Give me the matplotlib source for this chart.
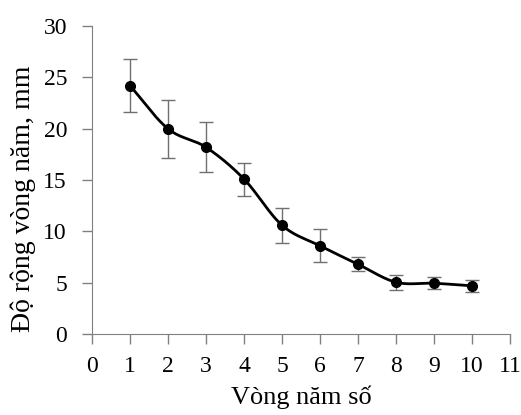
import matplotlib.pyplot as plt
import numpy as np

plt.rcParams['font.family'] = ['Liberation Serif', 'DejaVu Serif']

vong = np.arange(1, 11)
do_rong = np.array([24.2, 20.0, 18.2, 15.1, 10.6, 8.6, 6.8, 5.05, 4.95, 4.7])
sai_so = np.array([2.6, 2.85, 2.45, 1.6, 1.7, 1.6, 0.7, 0.75, 0.6, 0.6])


def catmull_rom(x, y, n=20):
    # smooth line like Excel's "smoothed line"
    px = np.concatenate(([2*x[0]-x[1]], x, [2*x[-1]-x[-2]]))
    py = np.concatenate(([2*y[0]-y[1]], y, [2*y[-1]-y[-2]]))
    xs, ys = [], []
    t = np.linspace(0, 1, n)
    for i in range(1, len(px)-2):
        for p, out in ((px, xs), (py, ys)):
            p0, p1, p2, p3 = p[i-1], p[i], p[i+1], p[i+2]
            out.extend(0.5*((2*p1) + (-p0+p2)*t + (2*p0-5*p1+4*p2-p3)*t**2
                            + (-p0+3*p1-3*p2+p3)*t**3))
    return np.array(xs), np.array(ys)


fig = plt.figure(figsize=(5.21, 4.15), dpi=100)
ax = fig.add_axes([0.1766, 0.195, 0.8024, 0.742])

sx, sy = catmull_rom(vong.astype(float), do_rong)
ax.plot(sx, sy, color='black', lw=2)
ax.errorbar(vong, do_rong, yerr=sai_so, fmt='none', ecolor='#707070',
            elinewidth=1, capsize=5, capthick=1)
ax.plot(vong, do_rong, 'o', color='black', ms=7)

ax.set_xlim(0, 11)
ax.set_ylim(0, 30)
ax.set_xticks(range(0, 12))
ax.set_yticks(range(0, 31, 5))
for s in ['top', 'right']:
    ax.spines[s].set_visible(False)
for s in ['left', 'bottom']:
    ax.spines[s].set_color('#808080')
ax.tick_params(axis='both', direction='out', length=7, color='#808080',
               labelsize=17, width=1)
ax.tick_params(axis='x', pad=9)
ax.tick_params(axis='y', pad=11)
ax.set_xlabel('Vòng năm số', fontsize=19, labelpad=6)
ax.set_ylabel('Độ rộng vòng năm, mm', fontsize=20, labelpad=5)
ax.yaxis.set_label_coords(-0.135, 0.44)

plt.savefig('out.png', dpi=100)
